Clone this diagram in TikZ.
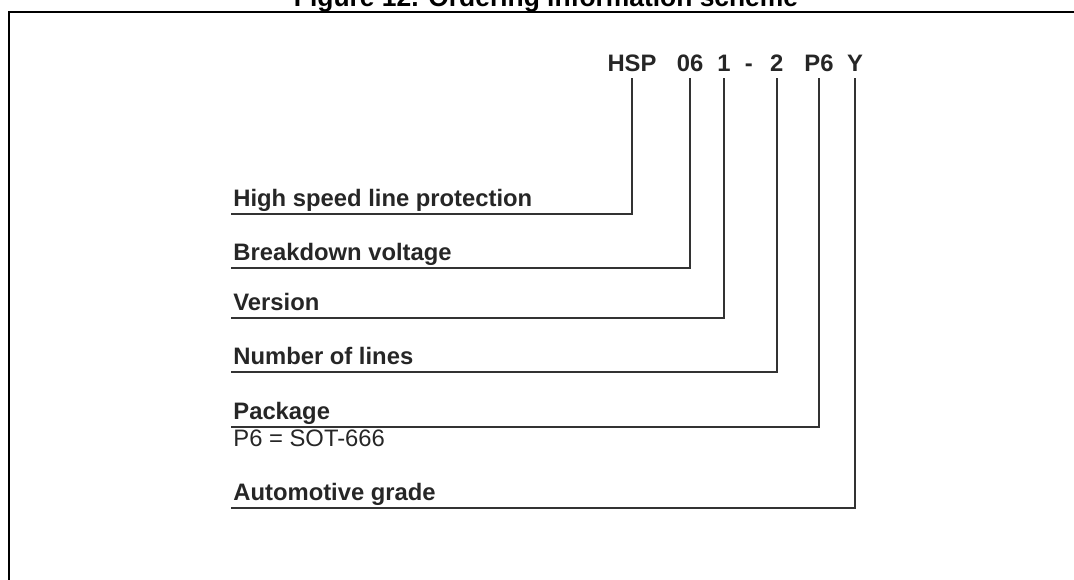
\documentclass[tikz,border=0pt]{standalone}
\usepackage{fontspec}
\setmainfont{Liberation Sans}
\usetikzlibrary{positioning}

\begin{document}
\begin{tikzpicture}[x=0.5pt,y=-0.5pt,
    code/.style={inner xsep=1pt, inner ysep=3pt, text depth=0pt, anchor=base, font=\fontsize{11.9}{14}\selectfont\bfseries, text=black!85},
    lbl/.style={inner xsep=1pt, inner ysep=3.5pt, text depth=0pt, anchor=south west, font=\fontsize{11.9}{14}\selectfont\bfseries, text=black!85},
    lead/.style={draw=black!80, line width=1pt}]
  \useasboundingbox (0,0) rectangle (1074,579);
  % frame and title
  \node(title) [anchor=base, font=\fontsize{13.2}{15}\selectfont\bfseries] at (546,6.7) {Figure 12. Ordering information scheme};
  \draw[line width=1pt] (1090,11.7) -- (8.7,11.7) -- (8.7,600);
  % code
  \node(hsp) [code] at (632,71.7) {HSP};
  \node(volt) [code] at (690,71.7) {06};
  \node(vers) [code] at (724,71.7) {1};
  \node(dash) [code] at (748.7,71.7) {-};
  \node(lines) [code] at (776.7,71.7) {2};
  \node(pkg) [code] at (819,71.7) {P6};
  \node(grade) [code] at (855,71.7) {Y};
  % fields
  \node(lhsp) [lbl] at (231,214.3) {High speed line protection};
  \node(lvolt) [lbl] at (231,267.7) {Breakdown voltage};
  \node(lvers) [lbl] at (231,317.7) {Version};
  \node(llines) [lbl] at (231,372) {Number of lines};
  \node(lpkg) [lbl] at (231,426.7) {Package};
  \node(sot) [anchor=base west, inner xsep=1pt, font=\fontsize{11.9}{14}\selectfont, text=black!85] at (231,446.7) {P6 = SOT-666};
  \node(lgrade) [lbl] at (231,507.7) {Automotive grade};
  \draw[lead] (lhsp.south west) -| (hsp.south);
  \draw[lead] (lvolt.south west) -| (volt.south);
  \draw[lead] (lvers.south west) -| (vers.south);
  \draw[lead] (llines.south west) -| (lines.south);
  \draw[lead] (lpkg.south west) -| (pkg.south);
  \draw[lead] (lgrade.south west) -| (grade.south);
\end{tikzpicture}
\end{document}
